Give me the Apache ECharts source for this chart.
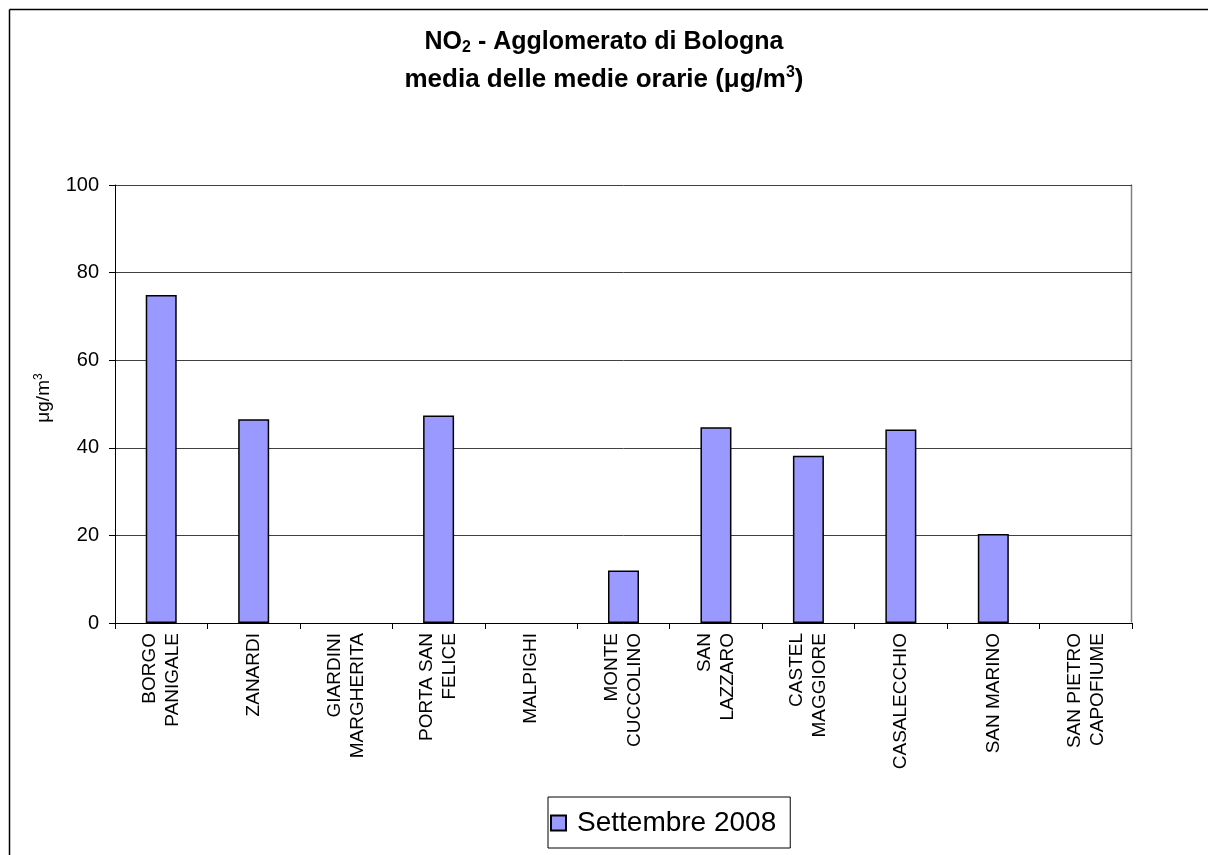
<!DOCTYPE html>
<html>
<head>
<meta charset="utf-8">
<script src="https://cdn.jsdelivr.net/npm/echarts@6/dist/echarts.min.js"></script>
<style>
html,body{margin:0;padding:0;background:#fff;}
#chart{width:1208px;height:855px;}
</style>
</head>
<body>
<div id="chart"></div>
<script>
const categories = ['BORGO\nPANIGALE','ZANARDI','GIARDINI\nMARGHERITA','PORTA SAN\nFELICE','MALPIGHI','MONTE\nCUCCOLINO','SAN\nLAZZARO','CASTEL\nMAGGIORE','CASALECCHIO','SAN MARINO','SAN PIETRO\nCAPOFIUME'];
const seriesName = 'Settembre 2008';
const values = [74.9, 46.5, null, 47.4, null, 12.0, 44.7, 38.2, 44.2, 20.3, null];
const yTicks = [0, 20, 40, 60, 80, 100];

const FONT = '"Liberation Sans", Arial, sans-serif';
const chart = echarts.init(document.getElementById('chart'));
chart.setOption({
  backgroundColor: '#fff',
  animation: false,
  textStyle: { fontFamily: FONT },
  title: {
    text: '{t|NO}{s|2}{t| - Agglomerato di Bologna}\n{u|media delle medie orarie (μg/m}{p|3}{u|)}',
    left: 'center',
    top: 18,
    textStyle: {
      rich: {
        t: { fontFamily: FONT, fontSize: 25, fontWeight: 'bold', color: '#000', lineHeight: 38 },
        u: { fontFamily: FONT, fontSize: 26, fontWeight: 'bold', color: '#000', lineHeight: 38 },
        s: { fontFamily: FONT, fontSize: 16, fontWeight: 'bold', color: '#000', padding: [11, 0, 0, 0], lineHeight: 38 },
        p: { fontFamily: FONT, fontSize: 16, fontWeight: 'bold', color: '#000', padding: [0, 0, 14, 0], lineHeight: 38 }
      }
    }
  },
  graphic: [
    { type: 'line', shape: { x1: 9.5, y1: 9.5, x2: 1208, y2: 9.5 }, style: { stroke: '#000', lineWidth: 1.5 } },
    { type: 'line', shape: { x1: 9.5, y1: 9.5, x2: 9.5, y2: 855 }, style: { stroke: '#000', lineWidth: 1.5 } },
    { type: 'line', shape: { x1: 1131.5, y1: 184.5, x2: 1131.5, y2: 622.5 }, style: { stroke: '#808080', lineWidth: 1.5 } },
    { type: 'text', x: 44, y: 398, rotation: Math.PI/2, style: { text: '{a|μg/m}{b|3}', rich: { a: { fontFamily: FONT, fontSize: 19, fill: '#000' }, b: { fontFamily: FONT, fontSize: 12, fill: '#000', padding: [0,0,10,0] } }, textAlign: 'center', textVerticalAlign: 'middle' } }
  ],
  legend: {
    left: 548,
    top: 797,
    orient: 'horizontal',
    itemWidth: 15,
    itemHeight: 15,
    itemGap: 8,
    padding: [12, 14, 11, 2],
    borderColor: '#000',
    borderWidth: 1,
    textStyle: { fontFamily: FONT, fontSize: 28, color: '#000', padding: [0, 0, 0, 6] },
    data: [{ name: seriesName, icon: 'rect' }]
  },
  grid: { left: 115, right: 76, top: 185, bottom: 232 },
  xAxis: {
    type: 'category',
    data: categories,
    axisLine: { lineStyle: { color: '#000', width: 1 } },
    axisTick: { show: true, alignWithLabel: false, length: 6, lineStyle: { color: '#000' } },
    axisLabel: { rotate: 90, interval: 0, fontFamily: FONT, fontSize: 19, color: '#000', lineHeight: 23, margin: 10 }
  },
  yAxis: {
    type: 'value',
    min: 0, max: 100, interval: 20,
    axisLine: { show: true, lineStyle: { color: '#000' } },
    axisTick: { show: true, length: 6, lineStyle: { color: '#000' } },
    axisLabel: { fontFamily: FONT, fontSize: 20, color: '#000', margin: 16, formatter: v => yTicks.includes(v) ? String(v) : '' },
    splitLine: { show: true, lineStyle: { color: '#404040', width: 1 } }
  },
  series: [{
    name: seriesName,
    type: 'bar',
    data: values,
    barWidth: 31,
    itemStyle: { color: '#9999ff', borderColor: '#000', borderWidth: 1.5 }
  }]
});
</script>
</body>
</html>
